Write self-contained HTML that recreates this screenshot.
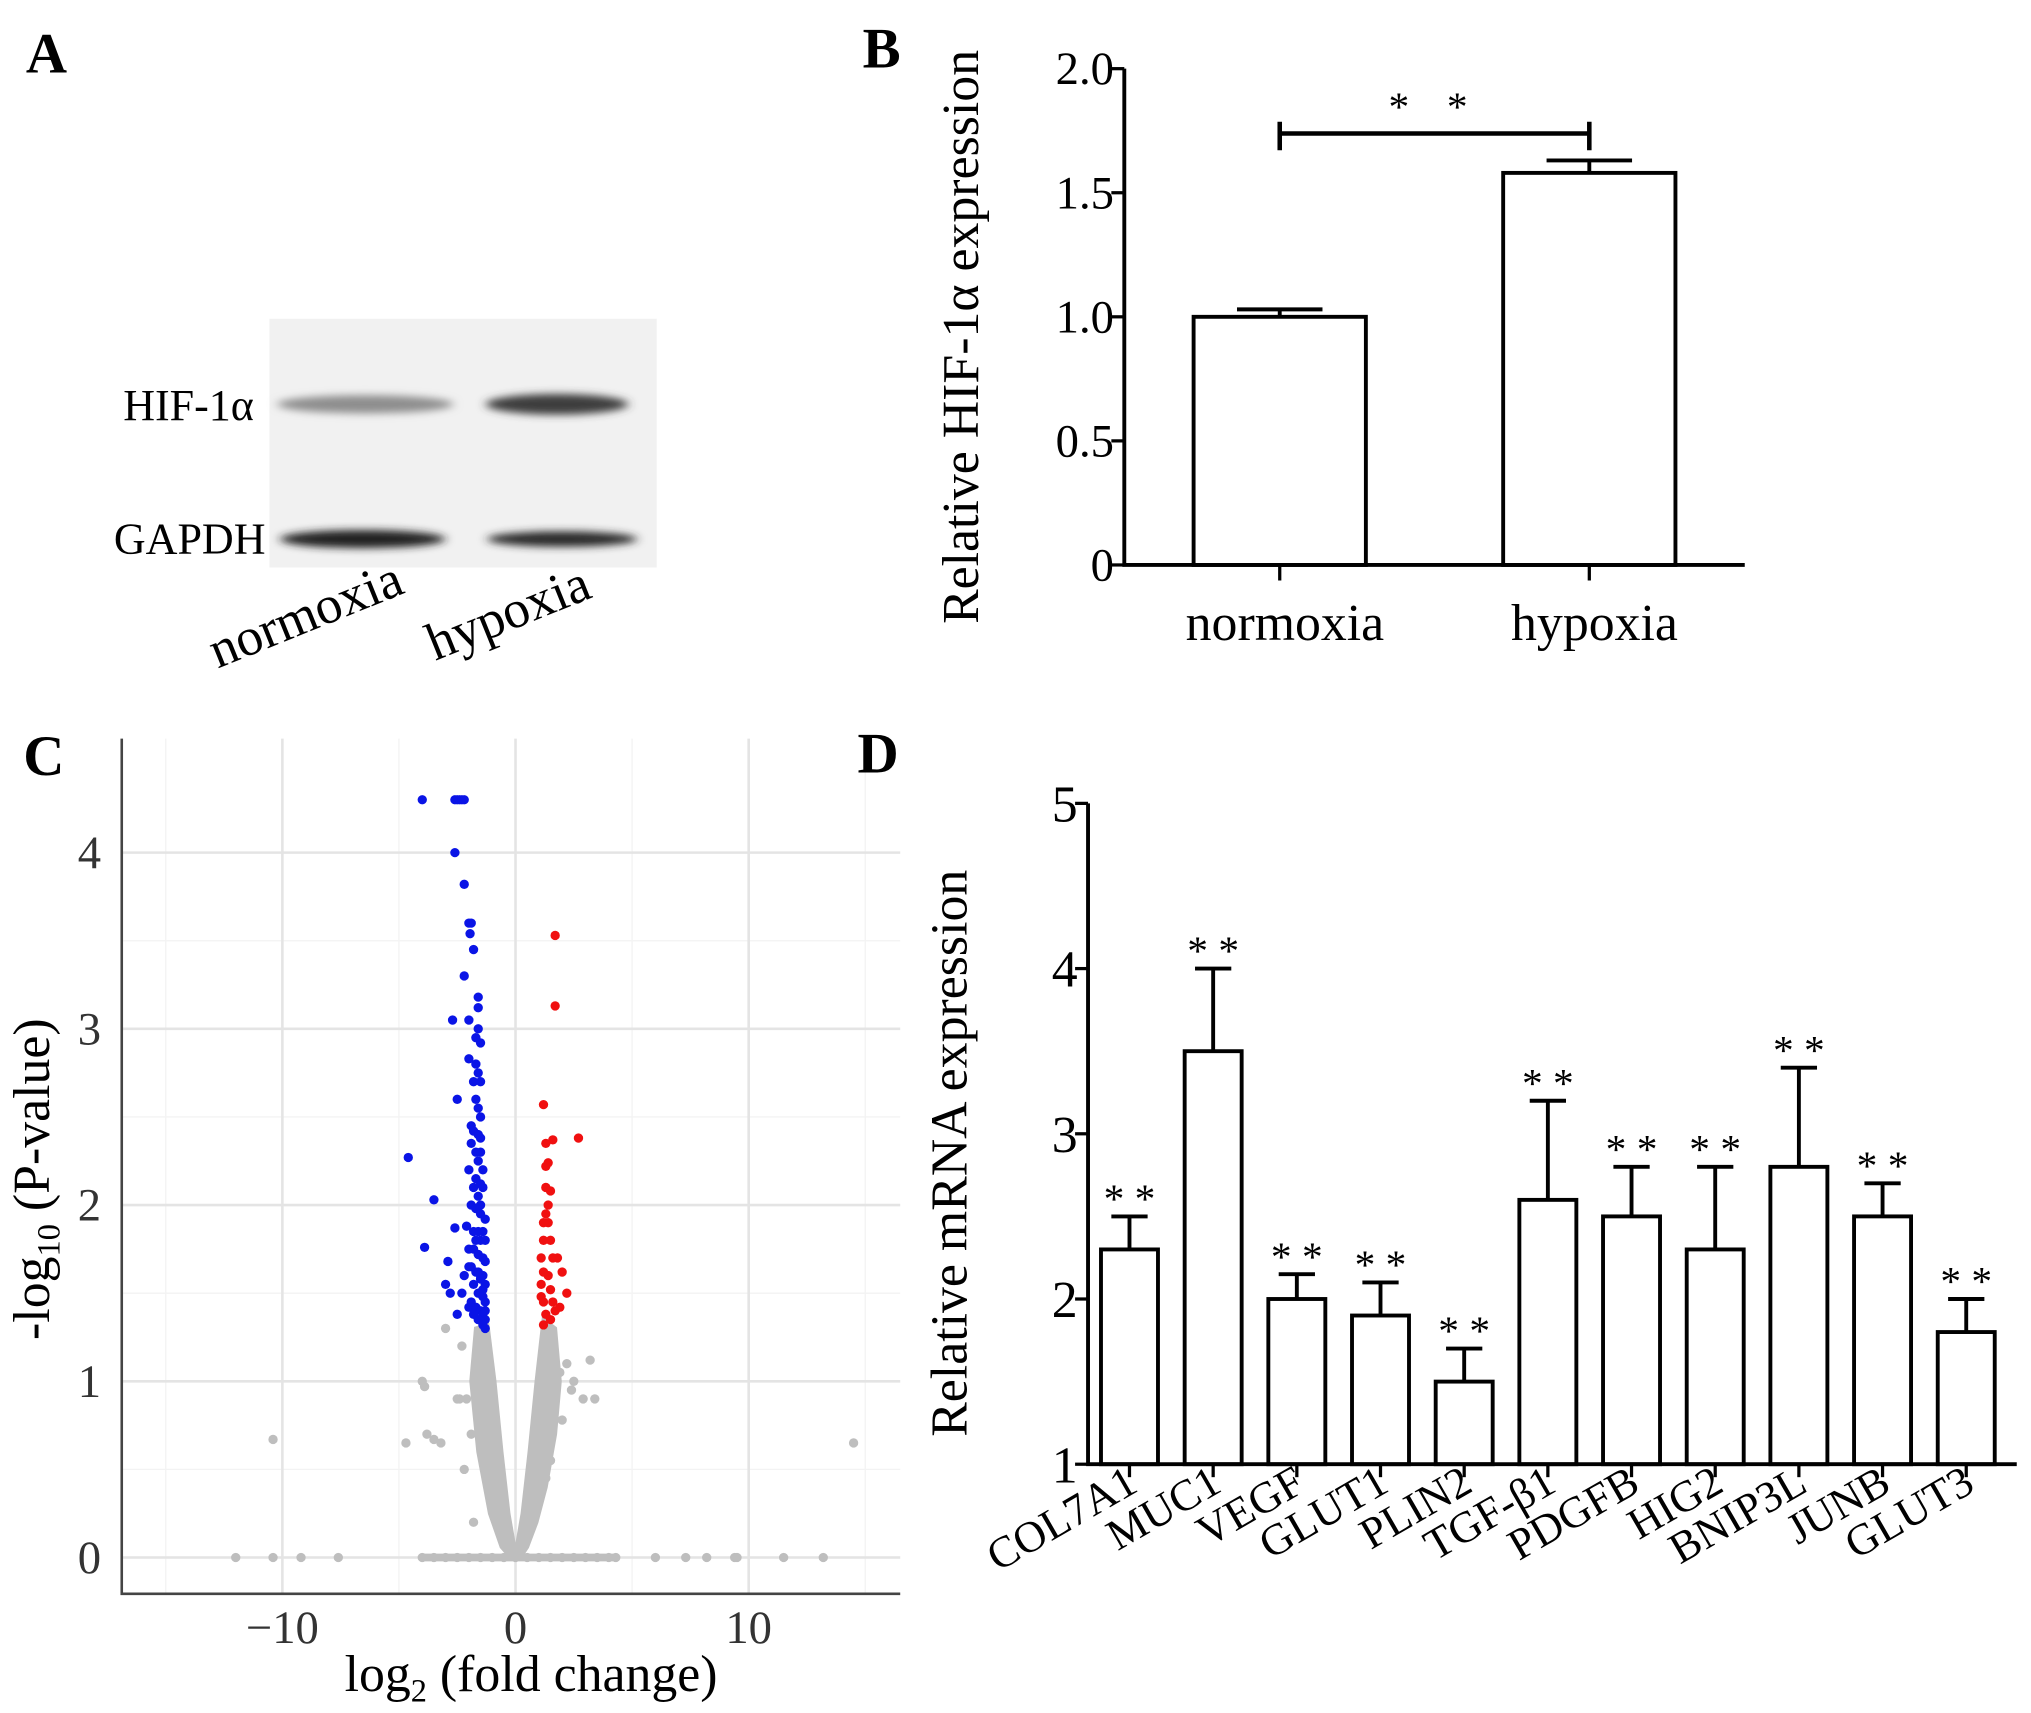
<!DOCTYPE html>
<html><head><meta charset="utf-8"><style>
html,body{margin:0;padding:0;background:#fff}
svg{display:block;font-family:"Liberation Serif",serif}
</style></head><body>
<svg id="fig" width="2031" height="1713" viewBox="0 0 1568 1322" preserveAspectRatio="none" xmlns="http://www.w3.org/2000/svg">
<defs>
<filter id="blur" x="-20%" y="-100%" width="140%" height="300%"><feGaussianBlur stdDeviation="4 3"/></filter>
</defs>
<rect width="1568" height="1322" fill="#fff"/>
<g>
<text x="20" y="56" font-size="44" font-weight="bold">A</text>
<rect x="208" y="246" width="299" height="192" fill="#f1f1f1"/>
<g filter="url(#blur)">
<ellipse cx="282" cy="312" rx="68" ry="7" fill="#8e8e8e"/>
<ellipse cx="430" cy="312" rx="55" ry="8" fill="#3c3c3c"/>
<ellipse cx="280" cy="416" rx="64" ry="7" fill="#222"/>
<ellipse cx="434" cy="416" rx="58" ry="6" fill="#2a2a2a"/>
</g>
<text x="196" y="324" font-size="34" text-anchor="end">HIF-1α</text>
<text x="205" y="427" font-size="34" text-anchor="end">GAPDH</text>
<text transform="translate(168,516) rotate(-22)" font-size="41">normoxia</text>
<text transform="translate(336,510) rotate(-22)" font-size="41">hypoxia</text>
</g>
<g id="panelB"></g>
<g id="panelC"></g>
<g id="panelD"></g>
</svg>
<script>
const NS="http://www.w3.org/2000/svg";
function mk(parent,tag,attrs,txt){const e=document.createElementNS(NS,tag);for(const k in attrs)e.setAttribute(k,attrs[k]);if(txt!==undefined)e.textContent=txt;parent.appendChild(e);return e;}

const bCategories=["normoxia","hypoxia"];
const bValues=[1.0,1.58];
const bErrors=[0.03,0.05];
const bTicks=[0,0.5,1.0,1.5,2.0];
const bTickLabels=["0","0.5","1.0","1.5","2.0"];

const cXTicks=[-10,0,10];
const cYTicks=[0,1,2,3,4];
const cBlueX=[-4.0,-2.6,-2.5,-2.4,-2.3,-2.2,-2.6,-2.2,-2.0,-1.9,-1.95,-1.8,-2.2,-1.6,-1.6,-2.7,-2.0,-1.6,-1.7,-1.5,-2.0,-1.7,-1.6,-1.8,-1.5,-2.5,-1.7,-1.6,-1.9,-1.5,-1.8,-1.6,-1.5,-1.9,-1.7,-1.5,-1.6,-1.4,-2.0,-1.7,-1.5,-1.8,-1.4,-1.6,-1.5,-1.9,-1.7,-1.5,-1.3,-2.1,-1.8,-1.6,-1.4,-1.7,-1.5,-1.3,-2.0,-1.8,-1.6,-1.4,-1.3,-1.9,-1.7,-1.5,-1.4,-1.3,-1.8,-1.6,-1.5,-1.4,-1.3,-2.0,-1.7,-1.5,-1.4,-1.3,-1.6,-1.4,-1.3,-4.6,-3.5,-3.9,-2.9,-3.0,-2.8,-2.5,-2.3,-2.6,-2.2,-2.0,-1.9,-1.8,-1.6,-1.5,-1.4,-1.3];
const cBlueY=[4.3,4.3,4.3,4.3,4.3,4.3,4.0,3.82,3.6,3.6,3.54,3.45,3.3,3.18,3.12,3.05,3.05,3.0,2.95,2.92,2.83,2.8,2.75,2.7,2.7,2.6,2.6,2.55,2.45,2.5,2.42,2.4,2.38,2.35,2.3,2.3,2.25,2.2,2.2,2.15,2.12,2.1,2.1,2.05,2.0,2.0,1.98,1.95,1.92,1.88,1.85,1.85,1.85,1.8,1.8,1.8,1.75,1.75,1.72,1.7,1.68,1.65,1.62,1.6,1.6,1.55,1.55,1.5,1.5,1.48,1.45,1.42,1.42,1.4,1.38,1.35,1.35,1.32,1.3,2.27,2.03,1.76,1.68,1.55,1.5,1.38,1.5,1.87,1.6,1.65,1.45,1.38,1.62,1.58,1.52,1.4];
const cRedX=[1.7,1.7,1.2,2.7,1.3,1.6,1.3,1.4,1.3,1.5,1.2,1.4,1.2,1.5,1.1,1.6,1.8,1.2,1.4,2.0,1.1,1.5,2.2,1.2,1.6,1.9,1.3,1.7,1.2,1.5,1.4,1.1,1.3];
const cRedY=[3.53,3.13,2.57,2.38,2.35,2.37,2.22,2.24,2.1,2.08,1.9,1.9,1.8,1.8,1.7,1.7,1.7,1.62,1.6,1.62,1.55,1.52,1.5,1.45,1.45,1.42,1.38,1.4,1.32,1.35,2.0,1.48,1.95];
const cGrayX=[-12,-10.4,-9.2,-7.6,-4,-3.5,-3,-2.5,-2,-1.5,-1,-0.5,0,0.5,1,1.5,2,2.5,3,3.5,4,4.3,6,7.3,8.2,9.4,9.5,11.5,13.2,-10.4,14.5,-4.7,-3.8,-3.5,-3.2,-4.0,-3.9,-2.5,-2.4,2.5,3.2,3.4,2.9,2.0,1.5,1.3,-2.2,-1.9,-1.8,-3.0,1.9,-2.3,-2.1,2.2,2.4];
const cGrayY=[0,0,0,0,0,0,0,0,0,0,0,0,0,0,0,0,0,0,0,0,0,0,0,0,0,0,0,0,0,0.67,0.65,0.65,0.7,0.67,0.65,1.0,0.97,0.9,0.9,1.0,1.12,0.9,0.9,0.78,0.55,0.45,0.5,0.7,0.2,1.3,1.05,1.2,0.9,1.1,0.95];
const cEnvX=[-1.2,-0.9,-0.6,-0.3,0,0.3,0.6,0.9,1.2,1.7,1.9,1.7,1.3,0.9,0.5,0.2,0,-0.2,-0.6,-1.1,-1.6,-1.9,-1.7];
const cEnvY=[1.32,1.0,0.6,0.25,0.02,0.25,0.6,1.0,1.35,1.3,1.0,0.7,0.4,0.2,0.06,0,0,0,0.06,0.25,0.6,1.0,1.3];

const dCategories=["COL7A1","MUC1","VEGF","GLUT1","PLIN2","TGF-β1","PDGFB","HIG2","BNIP3L","JUNB","GLUT3"];
const dValues=[2.3,3.5,2.0,1.9,1.5,2.6,2.5,2.3,2.8,2.5,1.8];
const dErrTop=[2.5,4.0,2.15,2.1,1.7,3.2,2.8,2.8,3.4,2.7,2.0];
const dTicks=[1,2,3,4,5];
const dTickLabels=["1","2","3","4","5"];

(function(){
const g=document.getElementById('panelB');
const y=v=>436-v*(436-53)/2.0;
const xs=[988,1227];
const bw=133;
let t=mk(g,'text',{x:666,y:52,'font-size':44,'font-weight':'bold'},'B');


bTicks.forEach((v,i)=>{
 let l=mk(g,'line',{x1:858,x2:868,y1:y(v),y2:y(v),stroke:'#000','stroke-width':2.5});
 
 
 let tx=mk(g,'text',{x:860,y:y(v)+12,'font-size':36,'text-anchor':'end'},bTickLabels[i]);
 
 
});
bCategories.forEach((c,i)=>{
 const x=xs[i];
 let eb=mk(g,'path',{d:`M${x} ${y(bValues[i])}V${y(bValues[i]+bErrors[i])}M${x-33} ${y(bValues[i]+bErrors[i])}H${x+33}`,stroke:'#000','stroke-width':3,fill:'none'});
 
 
 let r=mk(g,'rect',{x:x-bw/2,y:y(bValues[i]),width:bw,height:436-y(bValues[i]),fill:'#fff',stroke:'#000','stroke-width':3});
 
 
 let tk=mk(g,'line',{x1:x,x2:x,y1:436,y2:448,stroke:'#000','stroke-width':2.5});
 
 
 let lb=mk(g,'text',{x:x+4,y:494,'font-size':40,'text-anchor':'middle'},c);
 
 
});
let ax=mk(g,'path',{d:'M868 53V436H1347',stroke:'#000','stroke-width':3,fill:'none'});


let br=mk(g,'path',{d:`M${xs[0]} 94V116M${xs[0]} 103H${xs[1]}M${xs[1]} 94V116`,stroke:'#000','stroke-width':3.5,fill:'none'});


[1080,1125].forEach(sx=>{
 let st=mk(g,'text',{x:sx,y:93,'font-size':32,'text-anchor':'middle'},'*');
 
 
});
let yt=mk(g,'text',{transform:'translate(755,260) rotate(-90)','font-size':40,'text-anchor':'middle'},'Relative HIF-1α expression');


})();

(function(){
const g=document.getElementById('panelC');
const sx=v=>398+v*18.0;
const sy=v=>1202-v*136;
const L=94,R=695,T=570,B=1230;
let t=mk(g,'text',{x:18,y:598,'font-size':44,'font-weight':'bold'},'C');


[-15,-5,5,15].forEach(v=>{let l=mk(g,'line',{x1:sx(v),x2:sx(v),y1:T,y2:B,stroke:'#f3f3f3','stroke-width':1});
 
 });
[0.5,1.5,2.5,3.5].forEach(v=>{let l=mk(g,'line',{x1:L,x2:R,y1:sy(v),y2:sy(v),stroke:'#f3f3f3','stroke-width':1});
 
 });
cXTicks.forEach(v=>{
 let l=mk(g,'line',{x1:sx(v),x2:sx(v),y1:T,y2:B,stroke:'#e4e4e4','stroke-width':2});
 
 
 let tx=mk(g,'text',{x:sx(v),y:1268,'font-size':36,'text-anchor':'middle',fill:'#333'},v<0?'\u2212'+Math.abs(v):String(v));
 
 
});
cYTicks.forEach(v=>{
 let l=mk(g,'line',{x1:L,x2:R,y1:sy(v),y2:sy(v),stroke:'#e4e4e4','stroke-width':2});
 
 
 let tx=mk(g,'text',{x:78,y:sy(v)+12,'font-size':36,'text-anchor':'end',fill:'#333'},String(v));
 
 
});
let env=mk(g,'polygon',{points:cEnvX.map((x,i)=>sx(x)+','+sy(cEnvY[i])).join(' '),fill:'#bebebe',stroke:'#bebebe','stroke-width':3});


let zr=mk(g,'line',{x1:sx(-4),x2:sx(4.3),y1:sy(0),y2:sy(0),stroke:'#bebebe','stroke-width':6});


function pts(X,Y,col,name){X.forEach((x,i)=>{let c=mk(g,'circle',{cx:sx(x),cy:sy(Y[i]),r:3.6,fill:col});
 
 });}
pts(cGrayX,cGrayY,'#bebebe','c-point-ns');
pts(cBlueX,cBlueY,'#0a14e6','c-point-down');
pts(cRedX,cRedY,'#f01010','c-point-up');
let ax=mk(g,'path',{d:`M${L} ${T}V${B}H${R}`,stroke:'#444','stroke-width':2,fill:'none'});


let xt=mk(g,'text',{x:410,y:1305,'font-size':40,'text-anchor':'middle'});


xt.innerHTML='log<tspan font-size="25" dy="8">2</tspan><tspan dy="-8"> (fold change)</tspan>';
let yt=mk(g,'text',{transform:'translate(38,910) rotate(-90)','font-size':40,'text-anchor':'middle'});


yt.innerHTML='-log<tspan font-size="25" dy="8">10</tspan><tspan dy="-8"> (P-value)</tspan>';
})();

(function(){
const g=document.getElementById('panelD');
const y=v=>1130-(v-1)*127.5;
const x0=872,step=64.6,bw=44;
let t=mk(g,'text',{x:662,y:596,'font-size':44,'font-weight':'bold'},'D');


dTicks.forEach((v,i)=>{
 let l=mk(g,'line',{x1:830,x2:840,y1:y(v),y2:y(v),stroke:'#000','stroke-width':2.5});
 
 
 let tx=mk(g,'text',{x:832,y:y(v)+14,'font-size':40,'text-anchor':'end'},dTickLabels[i]);
 
 
});
dCategories.forEach((c,i)=>{
 const x=x0+i*step;
 let eb=mk(g,'path',{d:`M${x} ${y(dValues[i])}V${y(dErrTop[i])}M${x-14} ${y(dErrTop[i])}H${x+14}`,stroke:'#000','stroke-width':3,fill:'none'});
 
 
 let r=mk(g,'rect',{x:x-bw/2,y:y(dValues[i]),width:bw,height:1130-y(dValues[i]),fill:'#fff',stroke:'#000','stroke-width':3});
 
 
 let st=mk(g,'text',{x:x,y:y(dErrTop[i])-3,'font-size':32,'text-anchor':'middle'},'* *');
 
 
 let tk=mk(g,'line',{x1:x,x2:x,y1:1130,y2:1140,stroke:'#000','stroke-width':2.5});
 
 
 let lb=mk(g,'text',{transform:`translate(${x+8},1150) rotate(-30)`,'font-size':34,'text-anchor':'end'},c);
 
 
});
let ax=mk(g,'path',{d:'M840 620V1130H1557',stroke:'#000','stroke-width':3,fill:'none'});


let yt=mk(g,'text',{transform:'translate(746,890) rotate(-90)','font-size':40,'text-anchor':'middle'},'Relative mRNA expression');


})();
</script>
</body></html>
